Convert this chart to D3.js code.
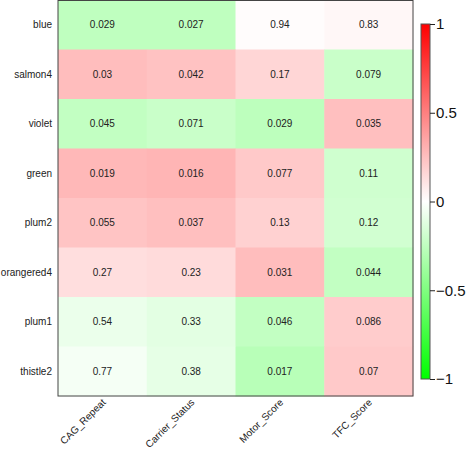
<!DOCTYPE html>
<html>
<head>
<meta charset="utf-8">
<script src="https://cdn.jsdelivr.net/npm/d3@7"></script>
<style>
body{margin:0;background:#fff;}
text{font-family:"Liberation Sans",Arial,Helvetica,sans-serif;}
</style>
</head>
<body>
<svg id="chart" width="472" height="450"></svg>
<script>
const rows = ["blue","salmon4","violet","green","plum2","orangered4","plum1","thistle2"];
const cols = ["CAG_Repeat","Carrier_Status","Motor_Score","TFC_Score"];
// correlation values (colour)
const corr = [
  [-0.25,-0.25, 0.01, 0.03],
  [ 0.26, 0.24, 0.16,-0.21],
  [-0.24,-0.21,-0.26, 0.25],
  [ 0.28, 0.29, 0.21,-0.19],
  [ 0.23, 0.25, 0.18,-0.18],
  [ 0.13, 0.14, 0.26,-0.24],
  [-0.08,-0.11,-0.24, 0.20],
  [-0.04,-0.10,-0.28, 0.21]
];
// p-values shown as text
const pval = [
  ["0.029","0.027","0.94","0.83"],
  ["0.03","0.042","0.17","0.079"],
  ["0.045","0.071","0.029","0.035"],
  ["0.019","0.016","0.077","0.11"],
  ["0.055","0.037","0.13","0.12"],
  ["0.27","0.23","0.031","0.044"],
  ["0.54","0.33","0.046","0.086"],
  ["0.77","0.38","0.017","0.07"]
];
const legendTicks = [1,0.5,0,-0.5,-1];

const svg = d3.select("#chart");
const mLeft = 58, mRight = 413, mTop = 0, mBottom = 396;
const x = d3.scaleBand().domain(cols).range([mLeft,mRight]);
const y = d3.scaleBand().domain(rows).range([mTop,mBottom]);
const color = d3.scaleLinear().domain([-1,0,1]).range(["#00ff00","#ffffff","#ff0000"]);

const cells = [];
rows.forEach((r,i)=>cols.forEach((c,j)=>cells.push({r,c,v:corr[i][j],p:pval[i][j]})));

svg.append("g").selectAll("rect").data(cells).join("rect")
  .attr("x",d=>x(d.c)).attr("y",d=>y(d.r))
  .attr("width",x.bandwidth()+0.5).attr("height",y.bandwidth()+0.5)
  .attr("fill",d=>color(d.v));

svg.append("g").selectAll("text").data(cells).join("text")
  .attr("x",d=>x(d.c)+x.bandwidth()/2).attr("y",d=>y(d.r)+y.bandwidth()/2)
  .attr("text-anchor","middle").attr("dy","0.35em")
  .attr("font-size",10).attr("fill","#222")
  .text(d=>d.p);

svg.append("rect").attr("x",mLeft).attr("y",mTop+0.5).attr("width",mRight-mLeft).attr("height",mBottom-mTop-0.5)
  .attr("fill","none").attr("stroke","#444").attr("stroke-width",1);

// row labels
svg.append("g").selectAll("text").data(rows).join("text")
  .attr("x",mLeft-6).attr("y",d=>y(d)+y.bandwidth()/2)
  .attr("text-anchor","end").attr("dy","0.35em").attr("font-size",10).attr("fill","#222")
  .text(d=>d);

// column labels
svg.append("g").selectAll("text").data(cols).join("text")
  .attr("transform",d=>`translate(${x(d)+x.bandwidth()/2+4},${mBottom+7}) rotate(-45)`)
  .attr("text-anchor","end").attr("font-size",10).attr("fill","#222")
  .text(d=>d);

// colour bar
const cb = d3.scaleLinear().domain([-1,1]).range([379,24]);
const defs = svg.append("defs");
const grad = defs.append("linearGradient").attr("id","cbg").attr("x1",0).attr("y1",1).attr("x2",0).attr("y2",0);
[-1,0,1].forEach(v=>grad.append("stop").attr("offset",(v+1)/2).attr("stop-color",color(v)));
svg.append("rect").attr("x",421).attr("y",cb(1)).attr("width",9).attr("height",cb(-1)-cb(1))
  .attr("fill","url(#cbg)").attr("stroke","#555").attr("stroke-width",1);
const ax = svg.append("g").attr("transform","translate(430,0)")
  .call(d3.axisRight(cb).tickValues(legendTicks).tickSize(5).tickPadding(1)
    .tickFormat(d=>d===0?"0":(d<0?"\u2212":"")+Math.abs(d)));
ax.select(".domain").remove();
ax.selectAll("line").attr("stroke","#222");
ax.selectAll("text").attr("font-size",15).attr("fill","#111").attr("font-family","Liberation Sans, Arial, sans-serif");
</script>
</body>
</html>
